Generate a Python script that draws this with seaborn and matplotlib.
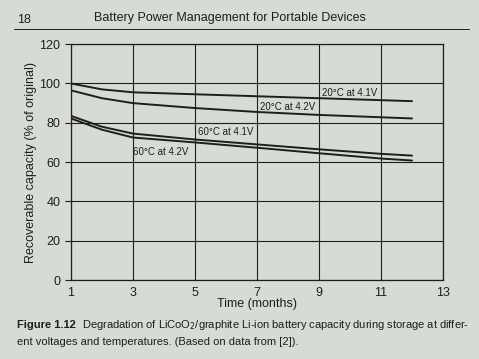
import matplotlib
matplotlib.use("Agg")
import matplotlib.pyplot as plt
import seaborn as sns
import pandas as pd

# values (months, % of original capacity)
months = [1, 2, 3, 5, 7, 9, 11, 12]
t20_41 = [100, 97, 95.5, 94.5, 93.5, 92.5, 91.5, 91]
t20_42 = [96.5, 92.5, 90, 87.5, 85.5, 84, 82.8, 82.2]
t60_41 = [83.5, 78, 74.5, 71.5, 69, 66.5, 64.2, 63.3]
t60_42 = [82.2, 76.5, 72.5, 70, 67.3, 64.5, 61.8, 60.8]
series_names = ["20°C at 4.1V", "20°C at 4.2V", "60°C at 4.1V", "60°C at 4.2V"]
label_pos = [(10, 95.2), (8, 88.0), (6, 75.3), (3.9, 65.0)]

x_ticks = [1, 3, 5, 7, 9, 11, 13]
y_ticks = [0, 20, 40, 60, 80, 100, 120]

rows = []
for name, vals in zip(series_names, [t20_41, t20_42, t60_41, t60_42]):
    for m, v in zip(months, vals):
        rows.append({"month": m, "capacity": v, "curve": name})
df = pd.DataFrame(rows)

paper = "#d7dbd5"
ink = "#1e1e1e"

sns.set_style("ticks")
plt.rcParams["font.family"] = ["Liberation Sans", "DejaVu Sans"]

fig = plt.figure(figsize=(4.79, 3.59), dpi=100, facecolor=paper)
ax = fig.add_axes([0.148, 0.22, 0.777, 0.657], facecolor=paper)

sns.lineplot(data=df, x="month", y="capacity", units="curve", estimator=None,
             color=ink, linewidth=1.4, ax=ax, legend=False)

for name, (lx, ly) in zip(series_names, label_pos):
    ax.text(lx, ly, name, ha="center", va="center", fontsize=7, color=ink)

ax.set_xlim(1, 13)
ax.set_ylim(0, 120)
ax.set_xticks(x_ticks)
ax.set_yticks(y_ticks)
ax.grid(True, color=ink, linewidth=0.8)
ax.tick_params(axis="x", length=0, pad=5, labelsize=9, colors=ink)
ax.tick_params(axis="y", length=4, width=0.8, labelsize=9, colors=ink)
for s in ax.spines.values():
    s.set_visible(True)
    s.set_color(ink)
    s.set_linewidth(0.9)

ax.set_xlabel("Time (months)", fontsize=9, color=ink, labelpad=-1)
ax.set_ylabel("Recoverable capacity (% of original)", fontsize=9, color=ink, labelpad=2)

# page header
fig.text(0.035, 0.945, "18", fontsize=9, color=ink, va="center")
fig.text(0.48, 0.95, "Battery Power Management for Portable Devices",
         fontsize=9, color=ink, ha="center", va="center")
fig.add_artist(plt.Line2D([0.03, 0.98], [0.918, 0.918], color=ink, linewidth=0.7))

# caption
fig.text(0.035, 0.085, "Figure 1.12", fontsize=8, fontweight="bold", color=ink)
fig.text(0.172, 0.085,
         "Degradation of LiCoO$_2$/graphite Li-ion battery capacity during storage at differ-",
         fontsize=8, color=ink)
fig.text(0.035, 0.04, "ent voltages and temperatures. (Based on data from [2]).",
         fontsize=8, color=ink)

fig.savefig("out.png", dpi=100, facecolor=paper)
